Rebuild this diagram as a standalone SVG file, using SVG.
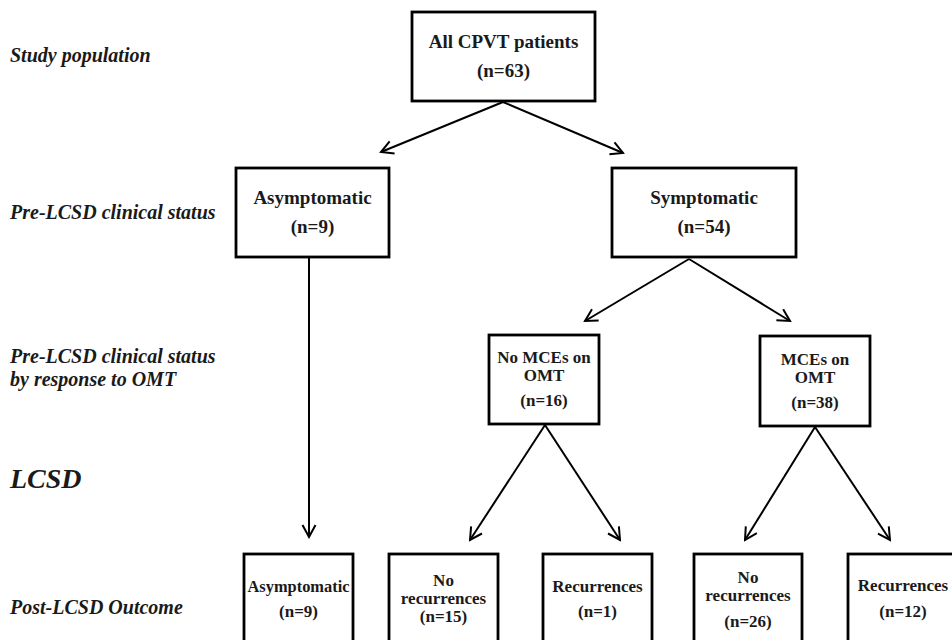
<svg xmlns="http://www.w3.org/2000/svg" width="952" height="640" viewBox="0 0 952 640">
<style>
.box{fill:#fff;stroke:#000;stroke-width:2.8}
.t{font-family:"Liberation Serif","Times New Roman",serif;font-weight:bold;fill:#1a1a1a;text-anchor:middle}
.t19{font-size:19px}
.t17{font-size:17px}
.lbl{font-family:"Liberation Serif","Times New Roman",serif;font-weight:bold;font-style:italic;font-size:20px;fill:#1a1a1a}
.c{stroke:#000;stroke-width:2;fill:none;marker-end:url(#ah)}
</style>
<defs>
<marker id="ah" markerUnits="userSpaceOnUse" markerWidth="16" markerHeight="16" viewBox="0 0 16 16" refX="14" refY="8" orient="auto">
<path d="M2,1.5 L14,8 L2,14.5" fill="none" stroke="#000" stroke-width="2"/>
</marker>
</defs>
<rect width="952" height="640" fill="#fff"/>
<g id="labels">
<text class="lbl" x="10" y="62">Study population</text>
<text class="lbl" x="10" y="219">Pre-LCSD clinical status</text>
<text class="lbl" x="10" y="363">Pre-LCSD clinical status</text>
<text class="lbl" x="10" y="386">by response to OMT</text>
<text class="lbl" x="10" y="488" style="font-size:28px">LCSD</text>
<text class="lbl" x="10" y="614">Post-LCSD Outcome</text>
</g>
<g id="connectors">
<line class="c" x1="503" y1="102" x2="381" y2="152"/>
<line class="c" x1="503" y1="102" x2="623" y2="153"/>
<line class="c" x1="309" y1="258" x2="309" y2="537"/>
<line class="c" x1="689" y1="259" x2="585" y2="321"/>
<line class="c" x1="689" y1="259" x2="790" y2="321"/>
<line class="c" x1="545" y1="425" x2="470" y2="540"/>
<line class="c" x1="545" y1="425" x2="620" y2="540"/>
<line class="c" x1="815" y1="427" x2="745" y2="540"/>
<line class="c" x1="815" y1="427" x2="890" y2="540"/>
</g>
<g id="n-all">
<rect class="box" x="412" y="12" width="183" height="89"/>
<text class="t t19" x="503.5" y="48">All CPVT patients</text>
<text class="t t19" x="503.5" y="77">(n=63)</text>
</g>
<g id="n-asym">
<rect class="box" x="236" y="168" width="153" height="89"/>
<text class="t t19" x="312.5" y="204">Asymptomatic</text>
<text class="t t19" x="312.5" y="233">(n=9)</text>
</g>
<g id="n-sym">
<rect class="box" x="612" y="168" width="184" height="89"/>
<text class="t t19" x="704" y="204">Symptomatic</text>
<text class="t t19" x="704" y="233">(n=54)</text>
</g>
<g id="n-nomce">
<rect class="box" x="489" y="335" width="110" height="89"/>
<text class="t t17" x="544" y="363">No MCEs on</text>
<text class="t t17" x="544" y="381">OMT</text>
<text class="t t17" x="544" y="406">(n=16)</text>
</g>
<g id="n-mce">
<rect class="box" x="760" y="336" width="110" height="90"/>
<text class="t t17" x="815" y="365">MCEs on</text>
<text class="t t17" x="815" y="383">OMT</text>
<text class="t t17" x="815" y="408">(n=38)</text>
</g>
<g id="n-out-asym">
<rect class="box" x="244" y="554" width="109" height="100"/>
<text class="t t17" x="298.5" y="592" textLength="102" lengthAdjust="spacingAndGlyphs">Asymptomatic</text>
<text class="t t17" x="298.5" y="617">(n=9)</text>
</g>
<g id="n-out-norec15">
<rect class="box" x="389" y="554" width="109" height="100"/>
<text class="t t17" x="443.5" y="586">No</text>
<text class="t t17" x="443.5" y="604">recurrences</text>
<text class="t t17" x="443.5" y="622">(n=15)</text>
</g>
<g id="n-out-rec1">
<rect class="box" x="543" y="554" width="109" height="100"/>
<text class="t t17" x="597.5" y="592">Recurrences</text>
<text class="t t17" x="597.5" y="617">(n=1)</text>
</g>
<g id="n-out-norec26">
<rect class="box" x="694" y="554" width="108" height="100"/>
<text class="t t17" x="748" y="583">No</text>
<text class="t t17" x="748" y="601">recurrences</text>
<text class="t t17" x="748" y="627">(n=26)</text>
</g>
<g id="n-out-rec12">
<rect class="box" x="848" y="554" width="110" height="100"/>
<text class="t t17" x="903" y="591">Recurrences</text>
<text class="t t17" x="903" y="617">(n=12)</text>
</g>
</svg>
